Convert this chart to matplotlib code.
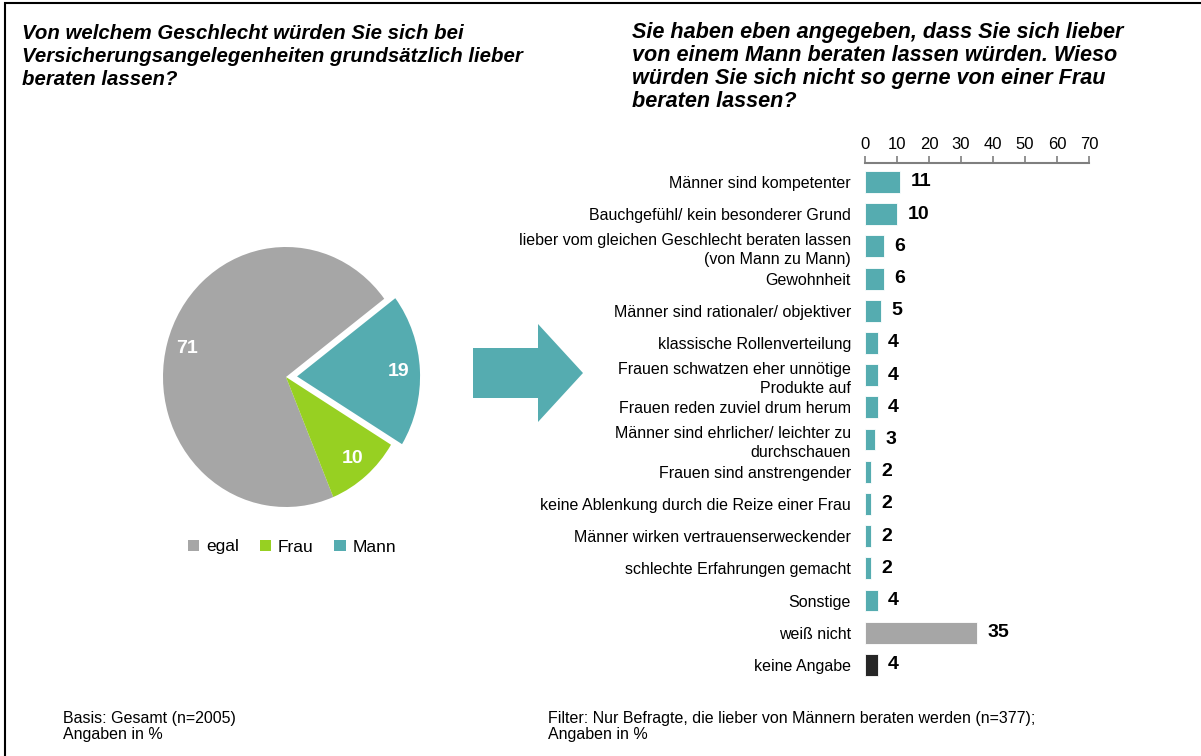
import matplotlib
matplotlib.use("Agg")
import matplotlib.pyplot as plt
from matplotlib.patches import Polygon, Rectangle

plt.rcParams["font.family"] = ["Liberation Sans", "DejaVu Sans"]

# ---------------------------------------------------------------------------
# Data
# ---------------------------------------------------------------------------
pie_labels = ["egal", "Frau", "Mann"]
pie_values = [71, 10, 19]

reasons = [
    "Männer sind kompetenter",
    "Bauchgefühl/ kein besonderer Grund",
    "lieber vom gleichen Geschlecht beraten lassen\n(von Mann zu Mann)",
    "Gewohnheit",
    "Männer sind rationaler/ objektiver",
    "klassische Rollenverteilung",
    "Frauen schwatzen eher unnötige\nProdukte auf",
    "Frauen reden zuviel drum herum",
    "Männer sind ehrlicher/ leichter zu\ndurchschauen",
    "Frauen sind anstrengender",
    "keine Ablenkung durch die Reize einer Frau",
    "Männer wirken vertrauenserweckender",
    "schlechte Erfahrungen gemacht",
    "Sonstige",
    "weiß nicht",
    "keine Angabe",
]
reason_values = [11, 10, 6, 6, 5, 4, 4, 4, 3, 2, 2, 2, 2, 4, 35, 4]

TEAL = "#55acb0"
GREEN = "#97d022"
GREY = "#a6a6a6"
DARK = "#262626"

bar_colors = [TEAL] * 14 + [GREY, DARK]

W, H = 1201, 756
fig = plt.figure(figsize=(W / 100, H / 100), dpi=100)


def px(x0, y0, x1, y1):
    """pixel box (left, top, right, bottom) -> figure rect"""
    return [x0 / W, 1 - y1 / H, (x1 - x0) / W, (y1 - y0) / H]


# outer frame (runs off the right/bottom edge)
fig.patches.append(Rectangle((5 / W, -0.1), 1.2, 1 - 3 / H + 0.1,
                             transform=fig.transFigure, fill=False,
                             edgecolor="black", linewidth=1.5))

# ---------------------------------------------------------------------------
# Titles and footers
# ---------------------------------------------------------------------------
fig.text(22 / W, 1 - 24 / H,
         "Von welchem Geschlecht würden Sie sich bei\n"
         "Versicherungsangelegenheiten grundsätzlich lieber\n"
         "beraten lassen?",
         ha="left", va="top", fontsize=14.7, fontweight="bold",
         fontstyle="italic", linespacing=1.26)
fig.text(632 / W, 1 - 22 / H,
         "Sie haben eben angegeben, dass Sie sich lieber\n"
         "von einem Mann beraten lassen würden. Wieso\n"
         "würden Sie sich nicht so gerne von einer Frau\n"
         "beraten lassen?",
         ha="left", va="top", fontsize=15.6, fontweight="bold",
         fontstyle="italic", linespacing=1.13)
fig.text(63 / W, 1 - 711 / H, "Basis: Gesamt (n=2005)\nAngaben in %",
         ha="left", va="top", fontsize=11.5, linespacing=1.05)
fig.text(548 / W, 1 - 711 / H,
         "Filter: Nur Befragte, die lieber von Männern beraten werden (n=377);\n"
         "Angaben in %",
         ha="left", va="top", fontsize=11.5, linespacing=1.05)

# ---------------------------------------------------------------------------
# Pie
# ---------------------------------------------------------------------------
cx, cy, rx, ry = 286, 377, 123, 130
ax_pie = fig.add_axes(px(cx - 1.25 * rx, cy - 1.25 * ry,
                         cx + 1.25 * rx, cy + 1.25 * ry))
wedges, _, autotexts = ax_pie.pie(
    pie_values, colors=[GREY, GREEN, TEAL], startangle=37,
    explode=[0, 0, 0.09], autopct=lambda p: f"{p:.0f}", pctdistance=0.83,
    wedgeprops=dict(linewidth=0),
    textprops=dict(color="white", fontsize=14, fontweight="bold"))
ax_pie.set_aspect("auto")
ax_pie.set_xlim(-1.25, 1.25)
ax_pie.set_ylim(-1.25, 1.25)
ax_pie.legend(wedges, pie_labels, loc="center", ncol=3, frameon=False,
              bbox_to_anchor=(292 / W, 1 - 547 / H),
              bbox_transform=fig.transFigure, fontsize=12.5,
              handlelength=0.65, handleheight=0.65, handletextpad=0.4,
              columnspacing=1.2)

# arrow between the two charts
arrow_px = [(473, 348), (538, 348), (538, 324), (583, 373),
            (538, 422), (538, 398), (473, 398)]
fig.patches.append(Polygon([(x / W, 1 - y / H) for x, y in arrow_px],
                           closed=True, transform=fig.transFigure,
                           facecolor=TEAL, edgecolor="none"))

# ---------------------------------------------------------------------------
# Bars
# ---------------------------------------------------------------------------
ax = fig.add_axes(px(865, 163, 1089, 681))
ypos = list(range(len(reasons)))
bars = ax.barh(ypos, reason_values, height=0.68, color=bar_colors,
               edgecolor="white", linewidth=0.6)
ax.set_xlim(0, 70)
ax.set_ylim(15.5, -0.59)
ax.xaxis.tick_top()
ax.set_xticks(range(0, 71, 10))
ax.tick_params(axis="x", colors="#7f7f7f", length=5, width=1.2,
               labelcolor="black", labelsize=12, pad=3)
ax.set_yticks(ypos)
ax.set_yticklabels(reasons, fontsize=11.5, linespacing=1.33)
ax.tick_params(axis="y", length=0, pad=10)
for side in ["left", "right", "bottom"]:
    ax.spines[side].set_visible(False)
ax.spines["top"].set_color("#7f7f7f")
ax.spines["top"].set_linewidth(1.5)
for rect, v in zip(bars, reason_values):
    ax.annotate(f"{v}", (rect.get_width(), rect.get_y() + rect.get_height() / 2),
                xytext=(7.5, 0), textcoords="offset points",
                ha="left", va="center", fontsize=14, fontweight="bold")

fig.savefig("out.png", dpi=100)
